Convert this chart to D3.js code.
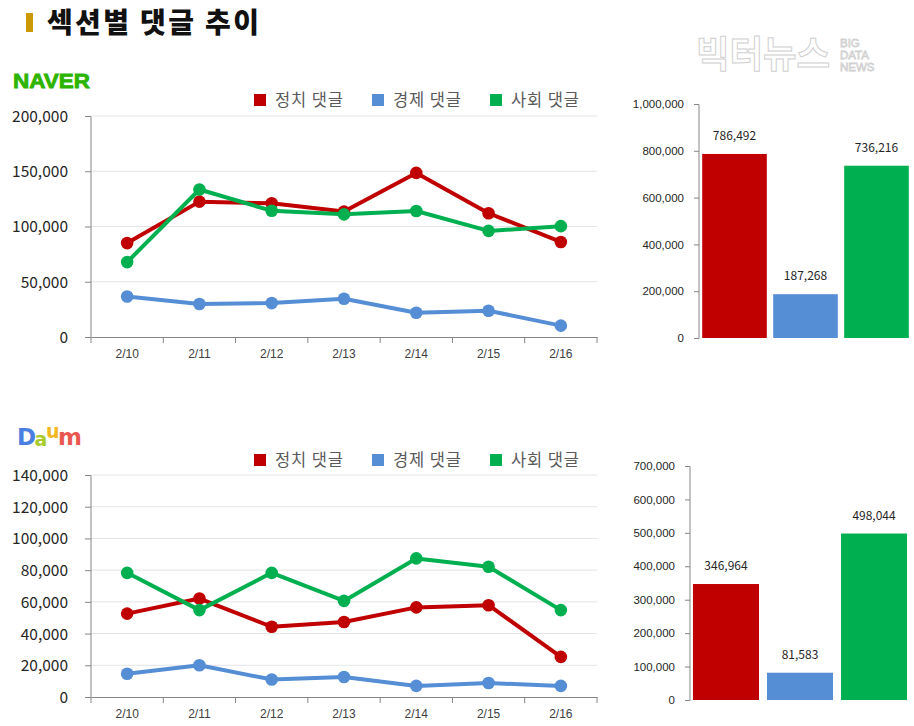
<!DOCTYPE html>
<html><head><meta charset="utf-8">
<script src="https://cdn.jsdelivr.net/npm/d3@7"></script>
<style>
body{margin:0;background:#fff;}
svg{display:block;font-family:"Noto Sans CJK KR","Noto Sans",sans-serif;}
</style></head><body>
<svg id="c" width="914" height="726"></svg>
<script>
const dates = ["2/10","2/11","2/12","2/13","2/14","2/15","2/16"];
const seriesNames = ["정치 댓글","경제 댓글","사회 댓글"];
const colors = ["#C00000","#558ED5","#00B050"];

const naverPolitics = [85000,122500,121000,113500,148500,112000,86000];
const naverEconomy  = [36700,29800,30700,34600,21900,23800,10300];
const naverSociety  = [67800,133500,114200,111000,114000,96000,100300];
const naverTotals   = [786492,187268,736216];
const naverYTicks   = [0,50000,100000,150000,200000];
const naverBarTicks = [0,200000,400000,600000,800000,1000000];

const daumPolitics = [52600,62100,44300,47300,56500,57900,25300];
const daumEconomy  = [14700,20000,11000,12600,7000,8800,7000];
const daumSociety  = [78300,54800,78300,60600,87400,82100,54800];
const daumTotals   = [346964,81583,498044];
const daumYTicks   = [0,20000,40000,60000,80000,100000,120000,140000];
const daumBarTicks = [0,100000,200000,300000,400000,500000,600000,700000];

const svg = d3.select("#c");
const fmt = d3.format(",");

// Title
svg.append("rect").attr("x",26).attr("y",13).attr("width",7).attr("height",19).attr("fill","#CC9A06");
svg.append("text").attr("x",47).attr("y",33).attr("font-size",28).attr("font-weight",900)
  .attr("fill","#111").attr("textLength",212).attr("lengthAdjust","spacing").text("섹션별 댓글 추이");

// Watermark
svg.append("text").attr("x",696).attr("y",68).attr("font-size",37).attr("font-weight",700)
  .attr("fill","#fff").attr("stroke","#cfcfcf").attr("stroke-width",1)
  .attr("textLength",134).attr("lengthAdjust","spacingAndGlyphs").text("빅터뉴스");
["BIG","DATA","NEWS"].forEach((t,i)=>{
  svg.append("text").attr("x",840).attr("y",47+i*12).attr("font-size",11.5).attr("font-family","Liberation Sans, sans-serif")
    .attr("fill","#fff").attr("stroke","#cfcfcf").attr("stroke-width",0.8).text(t);
});

// Logos
svg.append("text").attr("x",13).attr("y",88).attr("font-size",20).attr("font-weight",900)
  .attr("font-family","Liberation Sans, Arial, sans-serif").attr("fill","#2DB400")
  .attr("stroke","#2DB400").attr("stroke-width",0.8)
  .attr("textLength",77).attr("lengthAdjust","spacingAndGlyphs").text("NAVER");
const dl = svg.append("text").attr("x",17).attr("y",445).attr("font-size",23).attr("font-weight",700)
  .attr("font-family","DejaVu Sans, sans-serif").attr("letter-spacing",-1.5);
dl.append("tspan").attr("fill","#4A7EE0").text("D");
dl.append("tspan").attr("fill","#A6CB2A").attr("dy",1).attr("font-size",19).text("a");
dl.append("tspan").attr("fill","#F2B81D").attr("dy",-8).attr("font-size",19).text("u");
dl.append("tspan").attr("fill","#E8584F").attr("dy",7).text("m");

function legend(y){
  const xs=[254,372,490];
  seriesNames.forEach((n,i)=>{
    svg.append("rect").attr("x",xs[i]).attr("y",y-6).attr("width",12).attr("height",12).attr("fill",colors[i]);
    svg.append("text").attr("x",xs[i]+21).attr("y",y+6).attr("font-size",16.5).attr("fill","#595959")
      .attr("textLength",68).attr("lengthAdjust","spacing").text(n);
  });
}

function lineChart(cfg){
  const x = d3.scaleBand().domain(dates).range([91,597]);
  const y = d3.scaleLinear().domain([0,cfg.max]).range([cfg.bottom,cfg.top]);
  const g = svg.append("g");
  g.selectAll("line.grid").data(cfg.ticks.slice(1)).join("line")
    .attr("x1",91).attr("x2",597).attr("y1",d=>y(d)).attr("y2",d=>y(d))
    .attr("stroke","#E4E4E4").attr("stroke-width",1);
  const ya = g.append("g").attr("transform","translate(91,0)")
    .call(d3.axisLeft(y).tickValues(cfg.ticks).tickFormat(fmt).tickSize(6).tickPadding(17));
  ya.select(".domain").attr("stroke","#868686").attr("d",`M-6,${y(cfg.max)}.5H0V${cfg.bottom}`);
  ya.selectAll(".tick line").attr("stroke","#868686");
  ya.selectAll("text").attr("font-size",15.5).attr("fill","#262626")
    .attr("font-family","Noto Sans CJK KR, sans-serif").attr("dy","0.35em");
  const xa = g.append("g").attr("transform",`translate(0,${cfg.bottom})`)
    .call(d3.axisBottom(x).tickSize(0).tickPadding(12));
  xa.select(".domain").attr("stroke","#868686");
  xa.selectAll("text").attr("font-size",12).attr("fill","#404040");
  g.selectAll("line.xt").data(dates.concat(["end"])).join("line")
    .attr("x1",(d,i)=>91+i*x.step()).attr("x2",(d,i)=>91+i*x.step())
    .attr("y1",cfg.bottom).attr("y2",cfg.bottom+6).attr("stroke","#868686");
  const line = d3.line().x((d,i)=>x(dates[i])+x.bandwidth()/2).y(d=>y(d));
  cfg.series.forEach((s,i)=>{
    g.append("path").datum(s).attr("d",line).attr("fill","none")
      .attr("stroke",colors[i]).attr("stroke-width",4).attr("stroke-linejoin","round");
    g.selectAll(null).data(s).join("circle")
      .attr("cx",(d,j)=>x(dates[j])+x.bandwidth()/2).attr("cy",d=>y(d)).attr("r",6.3).attr("fill",colors[i]);
  });
}

function barChart(cfg){
  const x = d3.scaleBand().domain(seriesNames).range(cfg.xr).paddingInner(cfg.pi).paddingOuter(cfg.po);
  const y = d3.scaleLinear().domain([0,cfg.max]).range([cfg.bottom,cfg.top]);
  const g = svg.append("g");
  const ya = g.append("g").attr("transform",`translate(${cfg.xr[0]},0)`)
    .call(d3.axisLeft(y).tickValues(cfg.ticks).tickFormat(fmt).tickSize(5).tickPadding(10));
  ya.select(".domain").attr("stroke","#868686").attr("d",`M-5,${cfg.top}.5H0V${cfg.bottom}.5H-5`);
  ya.selectAll(".tick line").attr("stroke","#868686");
  ya.selectAll("text").attr("font-size",11.5).attr("fill","#262626");
  g.selectAll("rect").data(cfg.values).join("rect")
    .attr("x",(d,i)=>x(seriesNames[i])).attr("width",x.bandwidth())
    .attr("y",d=>y(d)).attr("height",d=>cfg.bottom-y(d)).attr("fill",(d,i)=>colors[i]);
  g.selectAll("text.v").data(cfg.values).join("text")
    .attr("x",(d,i)=>x(seriesNames[i])+x.bandwidth()/2).attr("y",d=>y(d)-14)
    .attr("text-anchor","middle").attr("font-size",12).attr("fill","#262626").text(d=>fmt(d));
}

legend(100);
lineChart({max:200000,top:116,bottom:337,ticks:naverYTicks,series:[naverPolitics,naverEconomy,naverSociety]});
barChart({xr:[699,912],pi:0.09,po:0.045,max:1000000,top:104,bottom:338,ticks:naverBarTicks,values:naverTotals});

legend(460);
lineChart({max:140000,top:475,bottom:697,ticks:daumYTicks,series:[daumPolitics,daumEconomy,daumSociety]});
barChart({xr:[690,910],pi:0.108,po:0.04,max:700000,top:466,bottom:700,ticks:daumBarTicks,values:daumTotals});
</script>
</body></html>
